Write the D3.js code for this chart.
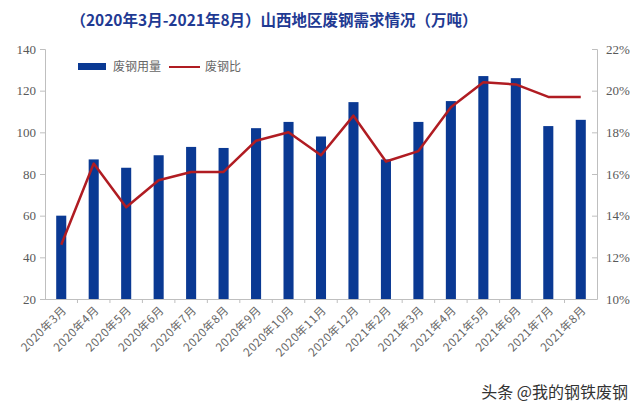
<!DOCTYPE html>
<html><head><meta charset="utf-8">
<script src="https://cdn.jsdelivr.net/npm/d3@7/dist/d3.min.js"></script>
<style>body{margin:0;background:#fff}svg{display:block}</style>
</head><body>
<svg id="c" width="640" height="413"></svg>
<script>
const categories = ["2020年3月","2020年4月","2020年5月","2020年6月","2020年7月","2020年8月","2020年9月","2020年10月","2020年11月","2020年12月","2021年2月","2021年3月","2021年4月","2021年5月","2021年6月","2021年7月","2021年8月"];
const usage = [60,87,83,89,93,92.5,102,105,98,114.5,87,105,115,127,126,103,106];
const ratio = [12.6,16.5,14.4,15.7,16.1,16.1,17.6,18.0,16.9,18.8,16.6,17.1,19.2,20.4,20.3,19.7,19.7];
const leftTicks = [20,40,60,80,100,120,140];
const rightTicks = [10,12,14,16,18,20,22];
const title = "（2020年3月-2021年8月）山西地区废钢需求情况（万吨）";
const legendLabels = ["废钢用量","废钢比"];
const watermark = "头条 @我的钢铁废钢";

const svg = d3.select("#c");
const L = 45, R = 597, T = 49, B = 299;
const x = d3.scaleBand().domain(categories).range([L, R]).paddingInner(0.69).paddingOuter(0.345);
const yL = d3.scaleLinear().domain([20,140]).range([B, T]);
const yR = d3.scaleLinear().domain([10,22]).range([B, T]);
const axisColor = "#bfbfbf", textColor = "#595959";
const numFont = "'Liberation Serif', serif";

svg.append("text").attr("x", 274).attr("y", 26).attr("text-anchor","middle")
  .attr("font-family","'Noto Sans CJK SC'").attr("font-weight","bold").attr("font-size",15.5)
  .attr("fill","#1f3a93").text(title);

// left axis
const gl = svg.append("g").attr("transform",`translate(${L},0)`)
  .call(d3.axisLeft(yL).tickValues(leftTicks).tickSize(5).tickPadding(4));
gl.select(".domain").attr("stroke",axisColor);
gl.selectAll(".tick line").attr("stroke",axisColor);
gl.selectAll("text").attr("fill",textColor).attr("font-family",numFont).attr("font-size",13);

// right axis
const gr = svg.append("g").attr("transform",`translate(${R},0)`)
  .call(d3.axisRight(yR).tickValues(rightTicks).tickSize(-5).tickPadding(9).tickFormat(d=>d+"%"));
gr.select(".domain").attr("stroke",axisColor);
gr.selectAll(".tick line").attr("stroke",axisColor);
gr.selectAll("text").attr("fill",textColor).attr("font-family",numFont).attr("font-size",13);

// bottom axis line and separators
const step = x.step();
svg.append("line").attr("x1",L).attr("x2",R).attr("y1",B+0.5).attr("y2",B+0.5).attr("stroke",axisColor);
svg.append("g").selectAll("line").data(categories.slice(1)).join("line")
  .attr("x1",d=>x(d)-x.paddingInner()*step/2).attr("x2",d=>x(d)-x.paddingInner()*step/2)
  .attr("y1",B).attr("y2",B+4).attr("stroke",axisColor);

// bars
svg.append("g").selectAll("rect").data(usage).join("rect")
  .attr("x",(d,i)=>x(categories[i])).attr("width",x.bandwidth())
  .attr("y",d=>yL(d)).attr("height",d=>B-yL(d)).attr("fill","#0a3993");

// line
const line = d3.line().x((d,i)=>x(categories[i])+x.bandwidth()/2).y(d=>yR(d));
svg.append("path").datum(ratio).attr("d",line).attr("fill","none")
  .attr("stroke","#b01c22").attr("stroke-width",2.5).attr("stroke-linejoin","round");

// x labels
svg.append("g").selectAll("text").data(categories).join("text")
  .attr("transform",d=>`translate(${x(d)+x.bandwidth()/2+6},${B+12}) rotate(-45)`)
  .attr("text-anchor","end").attr("font-family","'Noto Sans CJK SC'").attr("font-size",11.5)
  .attr("letter-spacing",0.5).attr("fill","#666").text(d=>d);

// legend
const lg = svg.append("g");
lg.append("rect").attr("x",78).attr("y",63).attr("width",28).attr("height",7).attr("fill","#0a3993");
lg.append("text").attr("x",113).attr("y",71).attr("font-family","'Noto Sans CJK SC'").attr("font-size",12).attr("fill","#666").text(legendLabels[0]);
lg.append("line").attr("x1",169).attr("x2",200).attr("y1",67).attr("y2",67).attr("stroke","#b01c22").attr("stroke-width",2);
lg.append("text").attr("x",205).attr("y",71).attr("font-family","'Noto Sans CJK SC'").attr("font-size",12).attr("fill","#666").text(legendLabels[1]);

// watermark
svg.append("text").attr("x",628).attr("y",398).attr("text-anchor","end")
  .attr("font-family","'Noto Sans CJK SC'").attr("font-size",16).attr("fill","#333")
  .text(watermark);
</script>
</body></html>
